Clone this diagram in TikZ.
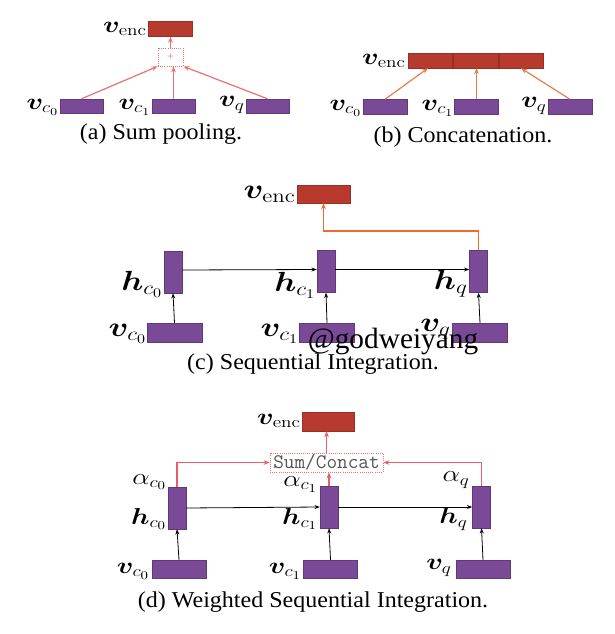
\documentclass[tikz,border=0pt]{standalone}
\usepackage{amsmath,bm}
\usepackage[no-math]{fontspec}
\setmainfont{Liberation Serif}
\usetikzlibrary{arrows.meta}
\definecolor{vpurple}{HTML}{7A4A98}
\definecolor{vpurpleD}{HTML}{5E3A78}
\definecolor{vred}{HTML}{B83A2E}
\definecolor{vredD}{HTML}{963025}
\definecolor{arA}{HTML}{E87272}
\definecolor{arB}{HTML}{E27E52}
\definecolor{arC}{HTML}{F06A2C}
\definecolor{arD}{HTML}{E65E6C}
\definecolor{ttgray}{HTML}{555555}
\newcommand{\wlab}[1]{\scalebox{1.2}[1]{#1}}
\newcommand{\wcap}[1]{\scalebox{1.06}[1]{#1}}
\tikzset{
  pbox/.style={draw=vpurpleD,fill=vpurple,line width=0.3pt,inner sep=0pt,minimum width=#1},
  rbox/.style={draw=vredD,fill=vred,line width=0.3pt,inner sep=0pt},
  lab/.style={anchor=east,inner sep=0pt},
  captxt/.style={inner sep=0pt,font=\fontsize{17}{20}\selectfont},
  blk/.style={draw=black,line width=0.6pt,-{Stealth[length=4pt,width=3pt]}},
  car/.style={draw=#1,line width=0.9pt,-{Stealth[length=4.5pt,width=3.5pt]}},
  dotbox/.style={draw=arA,densely dotted,line width=0.6pt,inner sep=0pt},
}
\begin{document}
\begin{tikzpicture}[x=0.75pt,y=-0.75pt]
\useasboundingbox (0,0) rectangle (614,634);
% ---------- (a) ----------
\begin{scope}[every node/.append style={font=\fontsize{17}{20}\selectfont}]
\node[rbox,minimum width=44*0.75pt,minimum height=15*0.75pt] (aenc) at (170.5,29) {};
\node[lab] (aencl) at (147,29) {\wlab{$\bm{v}_{\mathrm{enc}}$}};
\node[dotbox,minimum width=25*0.75pt,minimum height=18*0.75pt,text=arA,font=\fontsize{9}{10}\selectfont] (aplus) at (170.5,57) {+};
\node[pbox=43*0.75pt,minimum height=14*0.75pt] (ac0) at (81.5,106) {};
\node[pbox=43*0.75pt,minimum height=14*0.75pt] (ac1) at (173.5,106) {};
\node[pbox=43*0.75pt,minimum height=14*0.75pt] (aq) at (267.5,106) {};
\node[lab] (ac0l) at (59,107) {\wlab{$\bm{v}_{c_0}$}};
\node[lab] (ac1l) at (151,107) {\wlab{$\bm{v}_{c_1}$}};
\node[lab] (aql) at (245,105) {\wlab{$\bm{v}_{q}$}};
\end{scope}
\draw[car=arA] (ac0.north) -- (aplus.south west);
\draw[car=arA] (ac1.north) -- (ac1.north |- aplus.south);
\draw[car=arA] (aq.north) -- (aplus.south east);
\draw[car=arA] (aplus.north) -- (aplus.north |- aenc.south);
\node[captxt] (acap) at (161,134) {\wcap{(a) Sum pooling.}};
% ---------- (b) ----------
\begin{scope}[every node/.append style={font=\fontsize{17}{20}\selectfont}]
\node[rbox,minimum width=44*0.75pt,minimum height=15*0.75pt] (benc1) at (430,60.5) {};
\node[rbox,minimum width=45*0.75pt,minimum height=15*0.75pt] (benc2) at (475.5,60.5) {};
\node[rbox,minimum width=44*0.75pt,minimum height=15*0.75pt] (benc3) at (521,60.5) {};
\node[lab] (bencl) at (406,61) {\wlab{$\bm{v}_{\mathrm{enc}}$}};
\node[pbox=44*0.75pt,minimum height=15*0.75pt] (bc0) at (385,107) {};
\node[pbox=44*0.75pt,minimum height=15*0.75pt] (bc1) at (476.5,107) {};
\node[pbox=44*0.75pt,minimum height=15*0.75pt] (bq) at (570,107) {};
\node[lab] (bc0l) at (362,108) {\wlab{$\bm{v}_{c_0}$}};
\node[lab] (bc1l) at (454,108) {\wlab{$\bm{v}_{c_1}$}};
\node[lab] (bql) at (547,106) {\wlab{$\bm{v}_{q}$}};
\end{scope}
\draw[car=arB] (bc0.north) -- ([xshift=-1.5pt]benc1.south);
\draw[car=arB] (bc1.north) -- (bc1.north |- benc2.south);
\draw[car=arB] (bq.north) -- (benc3.south);
\node[captxt] (bcap) at (463,137) {\wcap{(b) Concatenation.}};
% ---------- (c) ----------
\begin{scope}[every node/.append style={font=\fontsize{20}{24}\selectfont}]
\node[rbox,minimum width=53*0.75pt,minimum height=18*0.75pt] (cenc) at (323.5,194) {};
\node[lab] (cencl) at (296,194) {\wlab{$\bm{v}_{\mathrm{enc}}$}};
\node[pbox=18*0.75pt,minimum height=42*0.75pt] (chc0) at (173,272) {};
\node[pbox=18*0.75pt,minimum height=42*0.75pt] (chc1) at (326,271.5) {};
\node[pbox=18*0.75pt,minimum height=42*0.75pt] (chq) at (478.5,271.5) {};
\node[pbox=55*0.75pt,minimum height=19*0.75pt] (cvc0) at (174.5,332.5) {};
\node[pbox=55*0.75pt,minimum height=19*0.75pt] (cvc1) at (327,332.5) {};
\node[pbox=55*0.75pt,minimum height=19*0.75pt] (cvq) at (480,332.5) {};
\node[lab] (chc0l) at (163,284) {\wlab{$\bm{h}_{c_0}$}};
\node[lab] (chc1l) at (316,285) {\wlab{$\bm{h}_{c_1}$}};
\node[lab] (chql) at (468,284) {\wlab{$\bm{h}_{q}$}};
\node[lab] (cvc0l) at (147,334) {\wlab{$\bm{v}_{c_0}$}};
\node[lab] (cvc1l) at (299,334) {\wlab{$\bm{v}_{c_1}$}};
\node[lab] (cvql) at (451,329) {\wlab{$\bm{v}_{q}$}};
\end{scope}
\draw[blk] (cvc0.north) -- (chc0.south);
\draw[blk] (cvc1.north) -- (chc1.south);
\draw[blk] (cvq.north) -- (chq.south);
\draw[blk] ([yshift=1.5pt]chc0.east) -- ([yshift=1.5pt]chc1.west);
\draw[blk] ([yshift=1.5pt]chc1.east) -- ([yshift=1.5pt]chq.west);
\coordinate (cturn) at (478.5,231);
\draw[car=arC] (chq.north) -- (cturn) -| (cenc.south);
\node[captxt] (ccap) at (313,364) {\wcap{(c) Sequential Integration.}};
\node[inner sep=0pt,font=\fontsize{22}{26}\selectfont] (wm) at (393,341) {@godweiyang};
% ---------- (d) ----------
\begin{scope}[every node/.append style={font=\fontsize{18.5}{22}\selectfont}]
\node[rbox,minimum width=52*0.75pt,minimum height=19*0.75pt] (denc) at (328,421.5) {};
\node[lab] (dencl) at (301,421) {\wlab{$\bm{v}_{\mathrm{enc}}$}};
\node[dotbox,minimum width=113*0.75pt,minimum height=19*0.75pt,text=ttgray,font=\fontsize{15.5}{18}\ttfamily] (dsum) at (326.5,462.5) {Sum/Concat};
\node[pbox=18*0.75pt,minimum height=42*0.75pt] (dhc0) at (177,508) {};
\node[pbox=18*0.75pt,minimum height=42*0.75pt] (dhc1) at (329,507) {};
\node[pbox=18*0.75pt,minimum height=42*0.75pt] (dhq) at (481.5,507) {};
\node[pbox=54*0.75pt,minimum height=18*0.75pt] (dvc0) at (179,569) {};
\node[pbox=54*0.75pt,minimum height=18*0.75pt] (dvc1) at (330.5,569) {};
\node[pbox=54*0.75pt,minimum height=18*0.75pt] (dvq) at (483,569) {};
\node[lab] (dac0l) at (167,482) {\wlab{$\alpha_{c_0}$}};
\node[lab] (dac1l) at (318,484.5) {\wlab{$\alpha_{c_1}$}};
\node[lab] (daql) at (470,480) {\wlab{$\alpha_{q}$}};
\node[lab] (dhc0l) at (167,519) {\wlab{$\bm{h}_{c_0}$}};
\node[lab] (dhc1l) at (318,519) {\wlab{$\bm{h}_{c_1}$}};
\node[lab] (dhql) at (468,519) {\wlab{$\bm{h}_{q}$}};
\node[lab] (dvc0l) at (150,571) {\wlab{$\bm{v}_{c_0}$}};
\node[lab] (dvc1l) at (302,571) {\wlab{$\bm{v}_{c_1}$}};
\node[lab] (dvql) at (452,568) {\wlab{$\bm{v}_{q}$}};
\end{scope}
\draw[blk] (dvc0.north) -- (dhc0.south);
\draw[blk] (dvc1.north) -- (dhc1.south);
\draw[blk] (dvq.north) -- (dhq.south);
\draw[blk] (dhc0.east) -- (dhc1.west);
\draw[blk] (dhc1.east) -- (dhq.west);
\draw[car=arD] (dhc0.north) |- (dsum.west);
\draw[car=arD] (dhq.north) |- (dsum.east);
\draw[car=arD] (dhc1.north) -- (dhc1.north |- dsum.south);
\draw[car=arD] (dsum.north) -- (dsum.north |- denc.south);
\node[captxt] (dcap) at (313,602) {\wcap{(d) Weighted Sequential Integration.}};
\end{tikzpicture}
\end{document}
